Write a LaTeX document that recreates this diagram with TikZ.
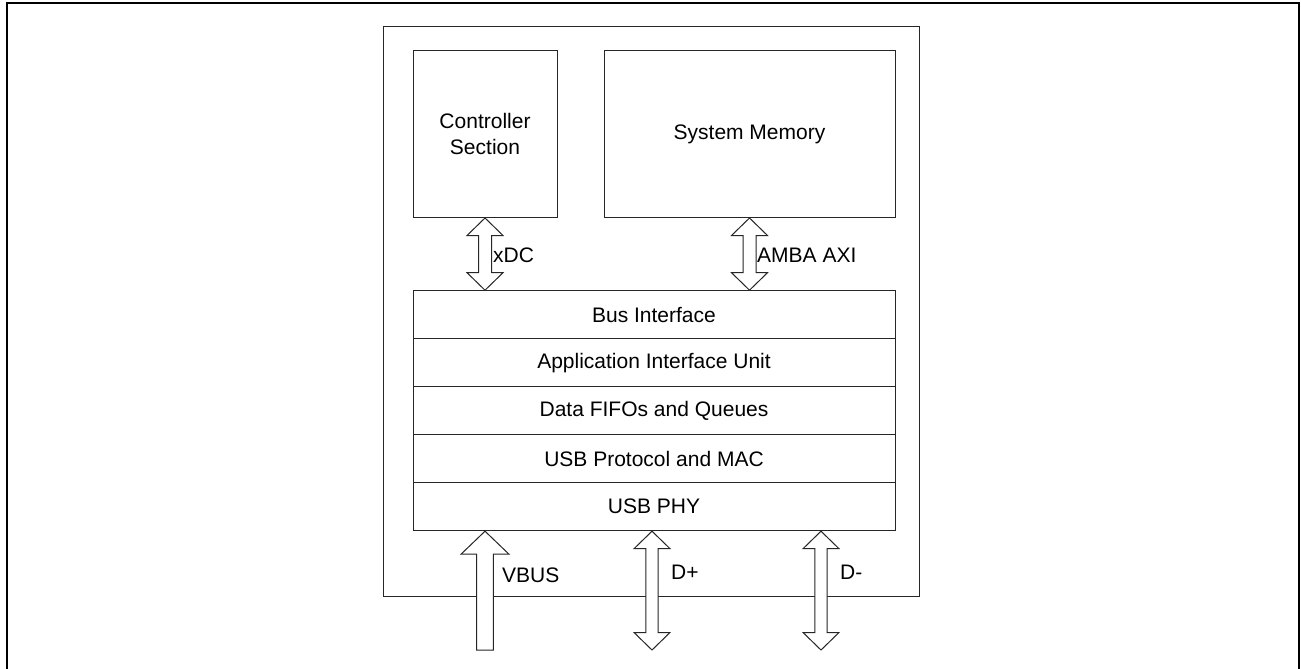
\documentclass[tikz,border=0pt]{standalone}
\usepackage{fontspec}
\setmainfont{Liberation Sans}
\usetikzlibrary{calc}
\tikzset{
  blk/.style={draw=black!85, line width=1pt, fill=white, inner sep=0pt, font=\fontsize{21}{26}\selectfont, align=center},
  lbl/.style={anchor=west, inner sep=0pt, font=\fontsize{21}{26}\selectfont},
  arr/.style={draw=black!85, line width=1pt, fill=white, line join=miter},
}
\newcommand\bidirarrow[4]{% top point, bottom point, half shaft, half head ; head length 17.5
  \path[arr] (#1) -- ($(#1)+(#4,17.5)$) -- ($(#1)+(#3,17.5)$) -- ($(#2)+(#3,-17.5)$) -- ($(#2)+(#4,-17.5)$)
    -- (#2) -- ($(#2)+(-#4,-17.5)$) -- ($(#2)+(-#3,-17.5)$) -- ($(#1)+(-#3,17.5)$) -- ($(#1)+(-#4,17.5)$) -- cycle;}
\begin{document}
\begin{tikzpicture}[x=1pt,y=-1pt]
\useasboundingbox (0,0) rectangle (1301,669);
\clip (0,0) rectangle (1301,669);
\draw[line width=2pt] (7,3) rectangle (1299,690);
% main box
\node[blk, minimum width=536pt, minimum height=570pt] (main) at (651,311.7) {};
% top blocks
\node[blk, minimum width=144pt, minimum height=167pt] (ctrl) at (485,134) {Controller\\Section};
\node[blk, minimum width=291pt, minimum height=167pt] (sm) at (749.5,134) {System Memory};
% stack
\node[blk, minimum width=482pt, minimum height=48pt] (bus) at (654,314.7) {Bus Interface};
\node[blk, minimum width=482pt, minimum height=48pt] (aiu) at (654,362.7) {Application Interface Unit};
\node[blk, minimum width=482pt, minimum height=48pt] (fifo) at (654,410.7) {Data FIFOs and Queues};
\node[blk, minimum width=482pt, minimum height=48pt] (mac) at (654,458.7) {USB Protocol and MAC};
\node[blk, minimum width=482pt, minimum height=48pt] (phy) at (654,506.7) {USB PHY};
% upper arrows
\coordinate (xdcb) at (ctrl.south |- bus.north);
\coordinate (axib) at (sm.south |- bus.north);
\bidirarrow{ctrl.south}{xdcb}{6.5}{18}
\bidirarrow{sm.south}{axib}{6.5}{18}
\node[lbl] (xdc) at (493,255) {xDC};
\node[lbl] (axi) at (757,255) {AMBA AXI};
% lower arrows
\coordinate (vbusend) at (485,650);
\coordinate (dpend) at (652,650);
\coordinate (dmend) at (821,650);
\coordinate (vbustip) at (vbusend |- phy.south);
\coordinate (dptip) at (dpend |- phy.south);
\coordinate (dmtip) at (dmend |- phy.south);
\path[arr] (vbustip) -- ($(vbustip)+(24,23)$) -- ($(vbustip)+(8.3,23)$) -- ($(vbusend)+(8.3,0)$)
  -- ($(vbusend)+(-8.3,0)$) -- ($(vbustip)+(-8.3,23)$) -- ($(vbustip)+(-24,23)$) -- cycle;
\bidirarrow{dptip}{dpend}{6.2}{18}
\bidirarrow{dmtip}{dmend}{6.2}{18}
\node[lbl] (vbus) at (502,575) {VBUS};
\node[lbl] (dp) at (671,572) {D+};
\node[lbl] (dm) at (840,572) {D-};
\end{tikzpicture}
\end{document}
